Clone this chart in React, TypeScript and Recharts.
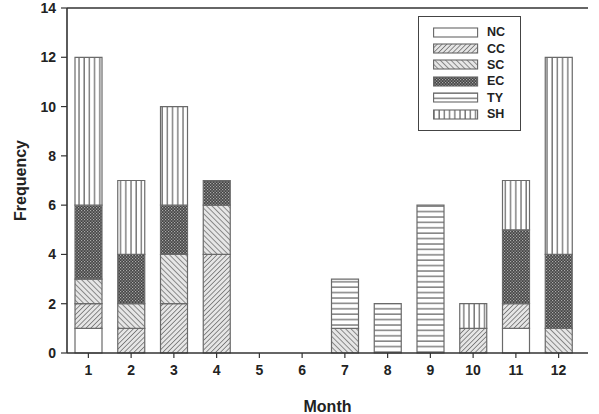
import React from "react";
import { BarChart, Bar, XAxis, YAxis, ReferenceLine } from "recharts";

// Monthly frequency, stacked by type
const months = ["1", "2", "3", "4", "5", "6", "7", "8", "9", "10", "11", "12"];
const NC = [1, 0, 0, 0, 0, 0, 0, 0, 0, 0, 1, 0];
const CC = [1, 1, 2, 4, 0, 0, 0, 0, 0, 1, 1, 0];
const SC = [1, 1, 2, 2, 0, 0, 1, 0, 0, 0, 0, 1];
const EC = [3, 2, 2, 1, 0, 0, 0, 0, 0, 0, 3, 3];
const TY = [0, 0, 0, 0, 0, 0, 2, 2, 6, 0, 0, 0];
const SH = [6, 3, 4, 0, 0, 0, 0, 0, 0, 1, 2, 8];
const yTicks = [0, 2, 4, 6, 8, 10, 12, 14];

const seriesKeys = ["NC", "CC", "SC", "EC", "TY", "SH"];
const seriesValues: Record<string, number[]> = { NC, CC, SC, EC, TY, SH };

const data = months.map((m, i) => {
  const row: Record<string, string | number> = { month: m };
  seriesKeys.forEach((k) => {
    row[k] = seriesValues[k][i];
  });
  return row;
});

const fills: Record<string, string> = {
  NC: "#ffffff",
  CC: "url(#pat-cc)",
  SC: "url(#pat-sc)",
  EC: "url(#pat-ec)",
  TY: "url(#pat-ty)",
  SH: "url(#pat-sh)",
};

const font = "'Liberation Sans', Arial, sans-serif";

const PatternDefs = () => (
  <defs>
    <pattern id="pat-cc" width="3.4" height="3.4" patternUnits="userSpaceOnUse" patternTransform="rotate(45)">
      <rect width="3.4" height="3.4" fill="#e6e6e6" />
      <line x1="0" y1="0" x2="0" y2="3.4" stroke="#555" strokeWidth="1.3" />
    </pattern>
    <pattern id="pat-sc" width="3.8" height="3.8" patternUnits="userSpaceOnUse" patternTransform="rotate(-45)">
      <rect width="3.8" height="3.8" fill="#e6e6e6" />
      <line x1="0" y1="0" x2="0" y2="3.8" stroke="#5a5a5a" strokeWidth="1.3" />
    </pattern>
    <pattern id="pat-ec" width="3" height="3" patternUnits="userSpaceOnUse">
      <rect width="3" height="3" fill="#444" />
      <rect x="0" y="0" width="1.2" height="1.2" fill="#aaa" />
      <rect x="1.5" y="1.5" width="1.2" height="1.2" fill="#aaa" />
    </pattern>
    <pattern id="pat-ty" width="6" height="5.4" patternUnits="userSpaceOnUse">
      <rect width="6" height="5.4" fill="#ffffff" />
      <line x1="0" y1="1" x2="6" y2="1" stroke="#777" strokeWidth="1.4" />
    </pattern>
    <pattern id="pat-sh" width="5.2" height="6" patternUnits="userSpaceOnUse">
      <rect width="5.2" height="6" fill="#ffffff" />
      <line x1="1" y1="0" x2="1" y2="6" stroke="#777" strokeWidth="1.4" />
    </pattern>
  </defs>
);

// Boxed key in the upper right of the plot area
const LegendBox = () => (
  <div
    style={{
      position: "absolute",
      left: 418,
      top: 16,
      border: "1px solid #444",
      background: "#fff",
      width: 103,
      height: 115,
      boxSizing: "border-box",
      padding: "7px 0 0 14px",
      fontFamily: font,
      fontWeight: 700,
      fontSize: 12.5,
      color: "#222",
    }}
  >
    {seriesKeys.map((k) => (
      <div key={k} style={{ display: "flex", alignItems: "center", height: 16.4 }}>
        <svg width={46} height={11} style={{ display: "block" }}>
          <rect x={0.6} y={1} width={44} height={9} fill={fills[k]} stroke="#666" strokeWidth={1.1} />
        </svg>
        <span style={{ marginLeft: 8, lineHeight: "12px" }}>{k}</span>
      </div>
    ))}
  </div>
);

export default function App() {
  return (
    <div style={{ position: "absolute", left: 0, top: 0, width: 599, height: 414, background: "#fff", overflow: "hidden" }}>
      <BarChart
        width={599}
        height={414}
        data={data}
        margin={{ top: 8, right: 11, bottom: 0, left: 7 }}
        barCategoryGap={0}
      >
        <PatternDefs />
        <XAxis
          dataKey="month"
          height={61}
          padding={{ left: 0, right: 8 }}
          tickSize={5}
          tickMargin={7}
          axisLine={{ stroke: "#333", strokeWidth: 1.6 }}
          tickLine={{ stroke: "#333", strokeWidth: 1.2 }}
          tick={{ fill: "#222", fontSize: 14, fontWeight: 700, fontFamily: font }}
          label={{
            value: "Month",
            position: "insideBottom",
            offset: 2,
            style: { fill: "#222", fontSize: 16, fontWeight: 700, fontFamily: font },
          }}
        />
        <YAxis
          width={60}
          domain={[0, 14]}
          ticks={yTicks}
          interval={0}
          tickSize={6}
          tickMargin={5}
          axisLine={{ stroke: "#333", strokeWidth: 1.6 }}
          tickLine={{ stroke: "#333", strokeWidth: 1.2 }}
          tick={{ fill: "#222", fontSize: 14, fontWeight: 700, fontFamily: font }}
          label={{
            value: "Frequency",
            angle: -90,
            position: "insideLeft",
            offset: 13,
            style: { fill: "#222", fontSize: 16, fontWeight: 700, fontFamily: font, textAnchor: "middle" },
          }}
        />
        <ReferenceLine y={14} stroke="#333" strokeWidth={1.6} ifOverflow="extendDomain" />
        {seriesKeys.map((k) => (
          <Bar
            key={k}
            dataKey={k}
            stackId="m"
            barSize={27}
            fill={fills[k]}
            stroke="#6a6a6a"
            strokeWidth={1.2}
            isAnimationActive={false}
          />
        ))}
      </BarChart>
      <LegendBox />
    </div>
  );
}
